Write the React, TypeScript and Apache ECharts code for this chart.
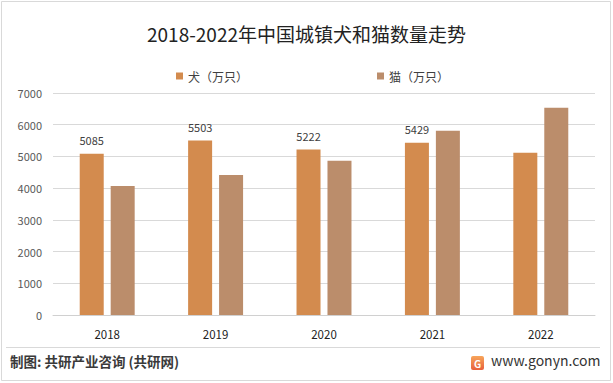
import React, { useEffect, useRef } from "react";
import * as echarts from "echarts";

const categories = ["2018", "2019", "2020", "2021", "2022"];
const dogValues = [5085, 5503, 5222, 5429, 5119];
const catValues = [4064, 4412, 4862, 5806, 6536];
const dogLabelShown = [true, true, true, true, false];
const seriesNames = ["犬（万只）", "猫（万只）"];
const titleText = "2018-2022年中国城镇犬和猫数量走势";
const footerLeft = "制图: 共研产业咨询 (共研网)";
const footerRight = "www.gonyn.com";

const FONT = '"Noto Sans CJK SC", "Noto Sans", sans-serif';

export default function App() {
  const ref = useRef<HTMLDivElement>(null);
  useEffect(() => {
    if (!ref.current) return;
    const chart = echarts.init(ref.current, null, { renderer: "svg" });
    chart.setOption({
      animation: false,
      backgroundColor: "#ffffff",
      textStyle: { fontFamily: FONT },
      title: {
        text: titleText,
        left: "center",
        top: 19,
        textStyle: { fontSize: 19, fontWeight: "normal", color: "#222222", fontFamily: FONT },
      },
      legend: {
        data: seriesNames,
        left: 171,
        top: 65,
        itemWidth: 7,
        itemHeight: 7,
        itemGap: 129,
        icon: "rect",
        textStyle: { fontSize: 12, color: "#404040", fontFamily: FONT },
      },
      grid: { left: 53, right: 18, top: 93, bottom: 68 },
      xAxis: {
        type: "category",
        data: categories,
        axisLine: { lineStyle: { color: "#d0d0d0" } },
        axisTick: { show: false },
        axisLabel: { color: "#222222", fontSize: 11.5, margin: 13, fontFamily: FONT },
      },
      yAxis: {
        type: "value",
        min: 0,
        max: 7000,
        interval: 1000,
        axisLine: { show: false },
        axisTick: { show: false },
        axisLabel: {
          color: "#595959",
          fontSize: 11,
          margin: 11,
          fontFamily: FONT,
          formatter: (v: number) => String(v),
        },
        splitLine: { lineStyle: { color: "#d9d9d9" } },
      },
      series: [
        {
          name: seriesNames[0],
          type: "bar",
          barWidth: 24,
          barGap: "29%",
          itemStyle: { color: "#D38B4E" },
          data: dogValues.map((v, i) => ({
            value: v,
            label: {
              show: dogLabelShown[i],
              position: "top",
              distance: 8,
              color: "#404040",
              fontSize: 11,
              fontFamily: FONT,
            },
          })),
        },
        {
          name: seriesNames[1],
          type: "bar",
          barWidth: 24,
          itemStyle: { color: "#BB8D6B" },
          data: catValues,
        },
      ],
      graphic: [
        {
          type: "rect",
          shape: { x: 1.5, y: 1.5, width: 609, height: 379 },
          style: { fill: "none", stroke: "#d9d9d9", lineWidth: 1 },
          silent: true,
        },
        {
          type: "line",
          shape: { x1: 6, y1: 347.5, x2: 600, y2: 347.5 },
          style: { stroke: "#d9d9d9", lineWidth: 1 },
        },
        {
          type: "text",
          left: 10,
          top: 354,
          style: {
            text: footerLeft,
            fontSize: 13.5,
            fontWeight: "bold",
            fill: "#3a3a3a",
            fontFamily: FONT,
          },
        },
        {
          type: "rect",
          shape: { x: 471, y: 356, width: 13, height: 14, r: 2 },
          style: {
            fill: new echarts.graphic.LinearGradient(0, 0, 0, 1, [
              { offset: 0, color: "#F7A55A" },
              { offset: 1, color: "#E8603C" },
            ]),
          },
        },
        {
          type: "text",
          x: 477.5,
          y: 363,
          style: {
            text: "G",
            fontSize: 10,
            fontWeight: "bold",
            fill: "#ffffff",
            align: "center",
            verticalAlign: "middle",
            fontFamily: FONT,
          },
        },
        {
          type: "text",
          left: 491,
          top: 353,
          style: {
            text: footerRight,
            fontSize: 14,
            fill: "#333333",
            fontFamily: FONT,
          },
        },
      ],
    });
    return () => chart.dispose();
  }, []);
  return <div ref={ref} style={{ width: 613, height: 383, position: "fixed", left: 0, top: 0 }} />;
}
